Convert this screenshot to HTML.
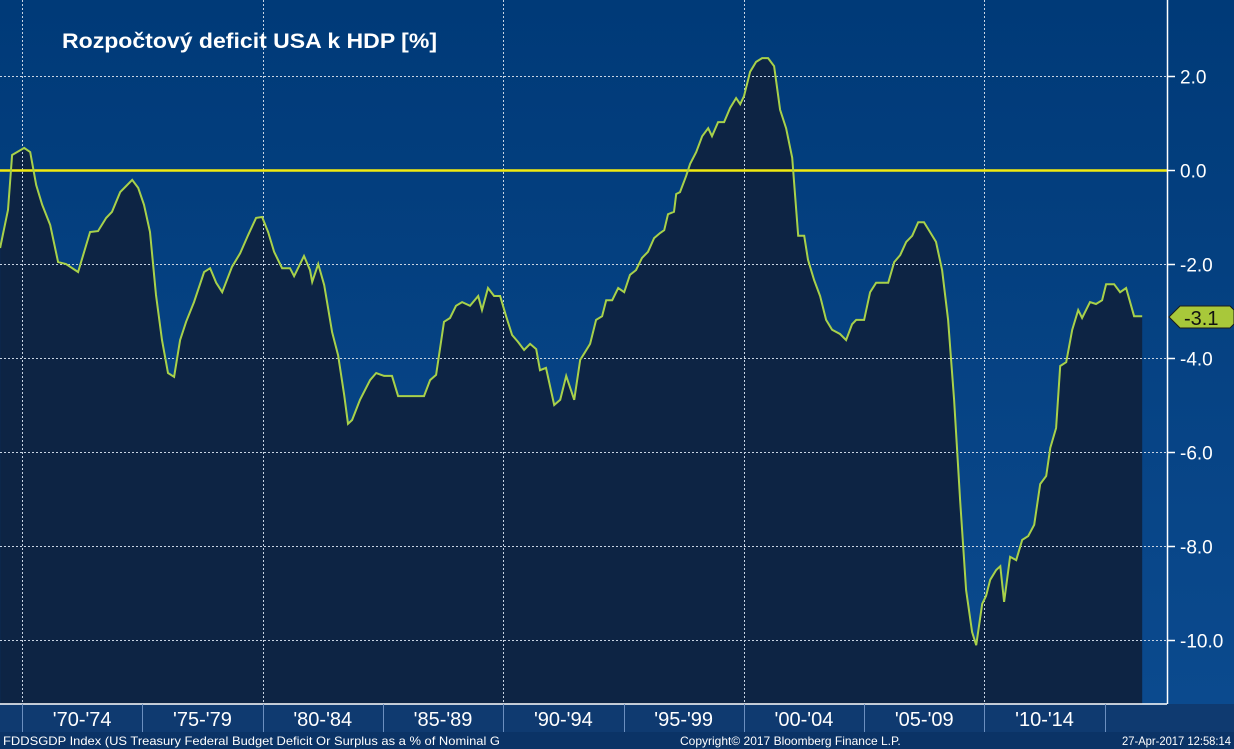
<!DOCTYPE html>
<html><head><meta charset="utf-8"><style>
html,body{margin:0;padding:0;width:1234px;height:749px;overflow:hidden;background:#0b3d78;font-family:"Liberation Sans","DejaVu Sans",sans-serif}
</style></head><body>
<svg id="chart" width="1234" height="749" viewBox="0 0 1234 749" xmlns="http://www.w3.org/2000/svg">
<defs><linearGradient id="bg" x1="0" y1="0" x2="0" y2="1"><stop offset="0" stop-color="#003a78"/><stop offset="1" stop-color="#0b4a8e"/></linearGradient></defs>
<rect x="0" y="0" width="1234" height="704" fill="url(#bg)"/>
<rect x="0" y="704" width="1234" height="28" fill="#0f3a70"/>
<rect x="0" y="732" width="1234" height="17" fill="#0b3366"/>
<g id="grid"></g>
<path id="area" fill="#0d2444"/>
<g id="grid2"></g>
<line x1="0" x2="1167" y1="170.5" y2="170.5" stroke="#f2ea10" stroke-width="2.5"/>
<path id="line" fill="none" stroke="#a8d14a" stroke-width="2"/>
<line x1="1167.5" x2="1167.5" y1="0" y2="704" stroke="#ffffff" stroke-width="1.5"/>
<line x1="0" x2="1167" y1="704" y2="704" stroke="#ffffff" stroke-width="1.5"/>
<g id="yticks"></g><g id="xticks"></g>
<g>
<polygon points="1169,317 1180,306 1230,306 1234,310 1234,324 1230,328 1180,328" fill="#a8c83a" stroke="#1a1a1a" stroke-width="1"/>
<text x="1184" y="325" font-size="20" fill="#111">-3.1</text></g>
<text x="62" y="48" font-size="21" font-weight="bold" fill="#ffffff" textLength="375" lengthAdjust="spacingAndGlyphs">Rozpočtový deficit USA k HDP [%]</text>
<text x="3" y="745" font-size="12" fill="#ffffff" textLength="497" lengthAdjust="spacingAndGlyphs">FDDSGDP Index (US Treasury Federal Budget Deficit Or Surplus as a % of Nominal G</text>
<text x="680" y="745" font-size="12" fill="#ffffff">Copyright© 2017 Bloomberg Finance L.P.</text>
<text x="1122" y="745" font-size="12" fill="#ffffff" textLength="109" lengthAdjust="spacingAndGlyphs">27-Apr-2017 12:58:14</text>
</svg>
<script>
const years=[1969.09,1969.42,1969.59,1970.09,1970.34,1970.59,1970.84,1971.17,1971.5,1971.83,1972.33,1972.83,1973.16,1973.5,1973.74,1974.08,1974.33,1974.58,1974.83,1975.07,1975.32,1975.57,1975.82,1976.07,1976.32,1976.57,1976.82,1977.15,1977.57,1977.82,1978.07,1978.32,1978.73,1979.07,1979.4,1979.73,1979.98,1980.23,1980.48,1980.81,1981.14,1981.31,1981.72,1981.97,1982.06,1982.31,1982.56,1982.89,1983.14,1983.39,1983.55,1983.72,1984.05,1984.47,1984.72,1985.05,1985.38,1985.63,1985.96,1986.71,1986.96,1987.21,1987.54,1987.79,1988.04,1988.29,1988.62,1988.96,1989.12,1989.37,1989.62,1989.87,1990.12,1990.37,1990.62,1990.87,1991.12,1991.37,1991.53,1991.78,1992.12,1992.37,1992.62,1992.95,1993.2,1993.36,1993.61,1993.86,1994.11,1994.28,1994.53,1994.78,1995.03,1995.27,1995.52,1995.77,1996.02,1996.27,1996.52,1996.69,1996.85,1997.1,1997.19,1997.35,1997.6,1997.77,1998.02,1998.27,1998.52,1998.68,1998.93,1999.18,1999.43,1999.68,1999.85,2000.01,2000.26,2000.51,2000.76,2001.01,2001.26,2001.51,2001.76,2002.01,2002.26,2002.51,2002.67,2002.92,2003.17,2003.42,2003.67,2004.0,2004.25,2004.5,2004.67,2005.0,2005.25,2005.5,2006.0,2006.25,2006.5,2006.75,2007.0,2007.25,2007.49,2007.74,2007.99,2008.24,2008.49,2008.74,2008.99,2009.24,2009.49,2009.66,2009.91,2010.07,2010.24,2010.49,2010.66,2010.82,2011.07,2011.32,2011.57,2011.82,2012.07,2012.32,2012.57,2012.74,2012.98,2013.15,2013.4,2013.65,2013.9,2014.06,2014.39,2014.64,2014.89,2015.06,2015.39,2015.64,2015.89,2016.22,2016.56];
const values=[-1.66,-0.85,0.32,0.47,0.38,-0.32,-0.74,-1.17,-1.96,-2.0,-2.17,-1.32,-1.3,-1.02,-0.89,-0.47,-0.34,-0.21,-0.38,-0.74,-1.32,-2.66,-3.62,-4.32,-4.4,-3.62,-3.23,-2.81,-2.17,-2.09,-2.4,-2.6,-2.06,-1.77,-1.38,-1.02,-1.0,-1.32,-1.74,-2.09,-2.09,-2.26,-1.83,-2.13,-2.38,-2.0,-2.45,-3.45,-3.94,-4.79,-5.4,-5.32,-4.89,-4.47,-4.32,-4.38,-4.38,-4.81,-4.81,-4.81,-4.47,-4.36,-3.23,-3.15,-2.89,-2.81,-2.89,-2.68,-2.98,-2.51,-2.68,-2.68,-3.11,-3.51,-3.66,-3.83,-3.7,-3.81,-4.26,-4.21,-5.0,-4.89,-4.38,-4.89,-4.04,-3.91,-3.7,-3.19,-3.11,-2.77,-2.77,-2.51,-2.6,-2.23,-2.13,-1.87,-1.74,-1.45,-1.34,-1.28,-0.94,-0.89,-0.51,-0.47,-0.13,0.13,0.38,0.72,0.89,0.72,1.02,1.02,1.32,1.53,1.4,1.57,2.09,2.3,2.38,2.38,2.21,1.28,0.89,0.26,-1.4,-1.4,-1.91,-2.34,-2.68,-3.19,-3.4,-3.49,-3.62,-3.28,-3.19,-3.19,-2.6,-2.4,-2.4,-1.96,-1.81,-1.53,-1.4,-1.11,-1.11,-1.32,-1.53,-2.13,-3.19,-4.89,-7.02,-8.94,-9.83,-10.11,-9.23,-9.06,-8.72,-8.51,-8.43,-9.19,-8.23,-8.3,-7.87,-7.79,-7.55,-6.68,-6.51,-5.91,-5.49,-4.17,-4.09,-3.4,-2.98,-3.15,-2.81,-2.85,-2.77,-2.43,-2.43,-2.6,-2.51,-3.11,-3.11];
const yTicks=[2,0,-2,-4,-6,-8,-10];
const yTickLabels=["2.0","0.0","-2.0","-4.0","-6.0","-8.0","-10.0"];
const xBands=["'70-'74","'75-'79","'80-'84","'85-'89","'90-'94","'95-'99","'00-'04","'05-'09","'10-'14"];
const xBandStarts=[1970,1975,1980,1985,1990,1995,2000,2005,2010];
const gridYears=[1970,1980,1990,2000,2010];

const NS="http://www.w3.org/2000/svg";
const xS=y=>22+(y-1970)*24.06;
const yS=v=>170-v*47;
function mk(tag,attrs,parent){const e=document.createElementNS(NS,tag);for(const k in attrs)e.setAttribute(k,attrs[k]);parent.appendChild(e);return e;}
const grid=document.getElementById('grid2'),yt=document.getElementById('yticks'),xt=document.getElementById('xticks');
yTicks.forEach((v,i)=>{
  const y=Math.round(yS(v))+0.5;
  if(v!==0){const g=mk('line',{x1:0,x2:1167,y1:y,y2:y,stroke:'#c8d4e4','stroke-width':1,'stroke-dasharray':'2,2'},grid);
  
  }
  const t=mk('line',{x1:1167,x2:1175,y1:y,y2:y,stroke:'#fff','stroke-width':1.5},yt);
  
  
  const l=mk('text',{x:1180,y:y+7,'font-size':19,fill:'#fff'},yt);l.textContent=yTickLabels[i];
  
  
});
gridYears.forEach(yr=>{
  const x=Math.round(xS(yr))+0.5;
  const g=mk('line',{x1:x,x2:x,y1:0,y2:704,stroke:'#c8d4e4','stroke-width':1,'stroke-dasharray':'2,2'},grid);
  
  
});
xBandStarts.forEach((yr,i)=>{
  const x0=xS(yr),x1=xS(yr+5);
  const s=mk('line',{x1:Math.round(x0)+0.5,x2:Math.round(x0)+0.5,y1:704,y2:732,stroke:'#6c8fbf','stroke-width':1},xt);
  
  
  const l=mk('text',{x:(x0+x1)/2,y:726,'font-size':20,fill:'#fff','text-anchor':'middle'},xt);l.textContent=xBands[i];
  
  
});
const sep=mk('line',{x1:Math.round(xS(2015))+0.5,x2:Math.round(xS(2015))+0.5,y1:704,y2:732,stroke:'#6c8fbf','stroke-width':1},xt);


let d='';years.forEach((yr,i)=>{d+=(i?'L':'M')+xS(yr).toFixed(1)+','+yS(values[i]).toFixed(1);});
document.getElementById('line').setAttribute('d',d);
document.getElementById('area').setAttribute('d',d+'L'+xS(years[years.length-1]).toFixed(1)+',704L'+xS(years[0]).toFixed(1)+',704Z');
</script>
</body></html>
